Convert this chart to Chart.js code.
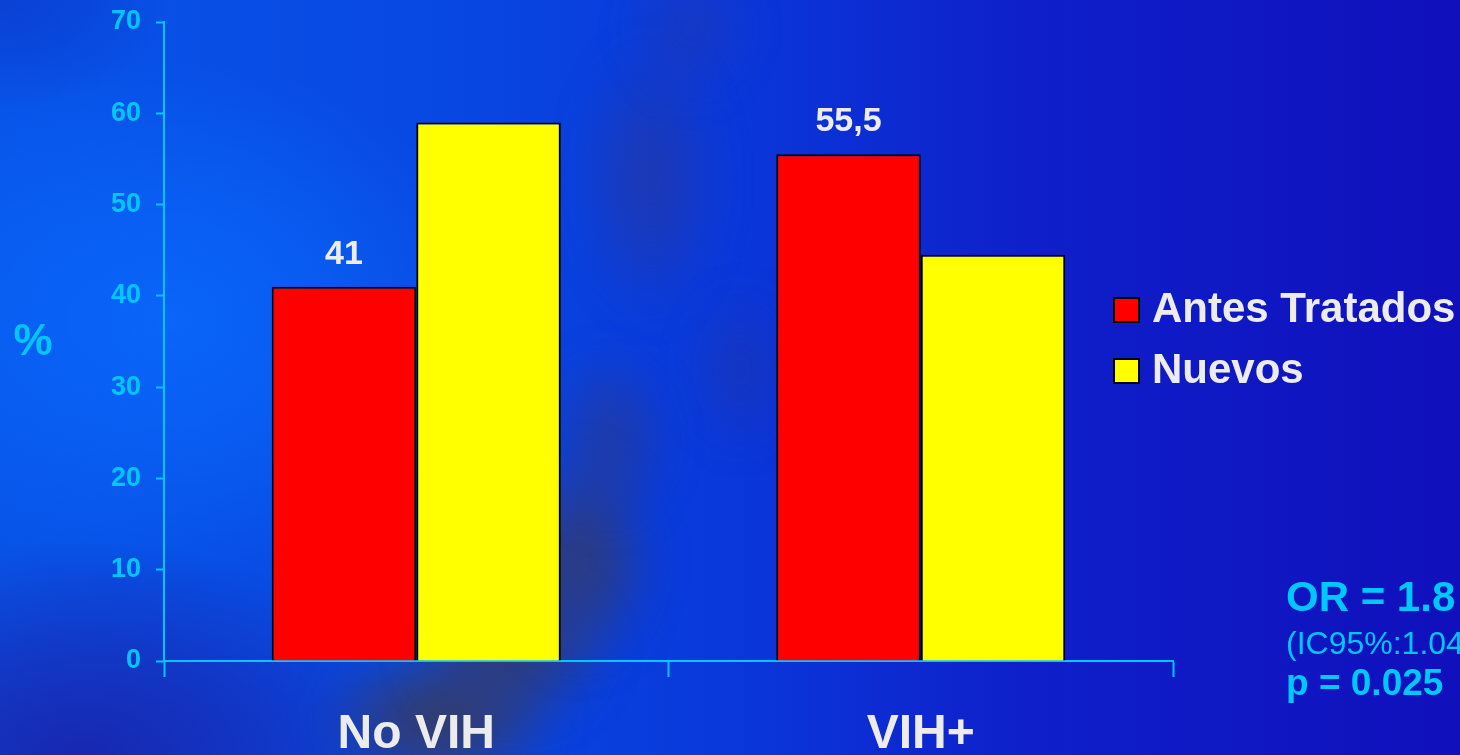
<!DOCTYPE html>
<html>
<head>
<meta charset="utf-8">
<script src="https://cdn.jsdelivr.net/npm/chart.js@4.4.0/dist/chart.umd.min.js"></script>
<style>
  html, body { margin: 0; padding: 0; background: #1014c2; overflow: hidden; }
  #wrap { width: 1460px; height: 755px; position: relative; }
  canvas { display: block; }
</style>
</head>
<body>
<div id="wrap"><canvas id="c" width="1460" height="755"></canvas></div>
<script>
// Grouped bars: share of each patient group, by HIV status
const categories = ['No VIH', 'VIH+'];
const seriesNames = ['Antes Tratados', 'Nuevos'];
const antesTratados = [41, 55.5];
const nuevos = [59, 44.5];
const yTicks = [0, 10, 20, 30, 40, 50, 60, 70];
const labeledSeries = [0];            // series whose values are printed above the bars
const axisUnit = '%';
const statsLines = ['OR = 1.8', '(IC95%:1.04', 'p = 0.025'];

const CYAN = '#00c8ff';
const LIGHT = '#ececec';
const FAMILY = "'Liberation Sans', Arial, Helvetica, sans-serif";

Chart.defaults.font.family = FAMILY;

function blob(ctx, x, y, rx, ry, color, alpha) {
  ctx.save();
  ctx.translate(x, y);
  ctx.scale(1, ry / rx);
  const g = ctx.createRadialGradient(0, 0, 0, 0, 0, rx);
  g.addColorStop(0, `rgba(${color},${alpha})`);
  g.addColorStop(0.5, `rgba(${color},${alpha * 0.6})`);
  g.addColorStop(1, `rgba(${color},0)`);
  ctx.fillStyle = g;
  ctx.beginPath();
  ctx.arc(0, 0, rx, 0, Math.PI * 2);
  ctx.fill();
  ctx.restore();
}

// Blue slide backdrop with a soft glow on the left and a dark diagonal sweep
const backdrop = {
  id: 'backdrop',
  beforeDraw(chart) {
    const { ctx, width: w, height: h } = chart;
    ctx.save();
    const base = ctx.createLinearGradient(0, 0, w, 0);
    base.addColorStop(0, '#0854e8');
    base.addColorStop(0.3, '#0848e2');
    base.addColorStop(0.5, '#0a38da');
    base.addColorStop(0.7, '#0e20ca');
    base.addColorStop(1, '#1010bc');
    ctx.fillStyle = base;
    ctx.fillRect(0, 0, w, h);

    // deeper tone towards the lower left corner
    blob(ctx, 80, 760, 360, 220, '26,34,170', 0.9);

    // broad bright glow on the left
    blob(ctx, 170, 320, 330, 260, '10,108,255', 0.75);

    // slightly darker top left corner
    blob(ctx, 0, 0, 170, 110, '12,52,200', 0.6);

    // dark diagonal sweep, strongest near the bottom
    ctx.filter = 'blur(20px)';
    blob(ctx, 440, 720, 120, 75, '60,58,90', 1);
    blob(ctx, 510, 650, 100, 80, '58,58,95', 0.9);
    blob(ctx, 580, 560, 75, 110, '56,58,100', 0.9);
    blob(ctx, 610, 440, 60, 90, '52,56,120', 0.6);
    blob(ctx, 740, 370, 50, 80, '45,50,140', 0.4);
    blob(ctx, 650, 180, 70, 140, '50,54,140', 0.55);
    blob(ctx, 690, 30, 60, 70, '50,54,150', 0.4);
    ctx.filter = 'none';
    ctx.restore();
  }
};

// Value labels, legend, unit label and statistics text
const overlay = {
  id: 'overlay',
  afterDatasetsDraw(chart) {
    const { ctx } = chart;
    ctx.save();
    ctx.fillStyle = LIGHT;
    ctx.font = `bold 34px ${FAMILY}`;
    ctx.textAlign = 'center';
    ctx.textBaseline = 'alphabetic';
    labeledSeries.forEach(di => {
      const meta = chart.getDatasetMeta(di);
      meta.data.forEach((bar, i) => {
        const v = chart.data.datasets[di].data[i];
        ctx.fillText(String(v).replace('.', ','), bar.x, bar.y - 23);
      });
    });
    ctx.restore();
  },
  afterDraw(chart) {
    const { ctx } = chart;
    ctx.save();
    // legend
    const rows = [310, 371];
    chart.data.datasets.forEach((ds, i) => {
      const cy = rows[i];
      ctx.fillStyle = ds.backgroundColor;
      ctx.fillRect(1114, cy - 12, 25, 24);
      ctx.strokeStyle = '#000';
      ctx.lineWidth = 2;
      ctx.strokeRect(1114, cy - 12, 25, 24);
      ctx.fillStyle = LIGHT;
      ctx.font = `bold 42px ${FAMILY}`;
      ctx.textAlign = 'left';
      ctx.textBaseline = 'middle';
      ctx.fillText(ds.label, 1152, cy);
    });
    // unit label
    ctx.fillStyle = CYAN;
    ctx.font = `bold 44px ${FAMILY}`;
    ctx.textAlign = 'center';
    ctx.textBaseline = 'middle';
    ctx.fillText(axisUnit, 33, 343);
    // statistics
    ctx.textAlign = 'left';
    ctx.font = `bold 42px ${FAMILY}`;
    ctx.fillText(statsLines[0], 1286, 599);
    ctx.font = `32px ${FAMILY}`;
    ctx.fillText(statsLines[1], 1286, 645);
    ctx.font = `bold 37px ${FAMILY}`;
    ctx.fillText(statsLines[2], 1286, 685);
    ctx.restore();
  }
};

new Chart(document.getElementById('c'), {
  type: 'bar',
  data: {
    labels: categories,
    datasets: [
      { label: seriesNames[0], data: antesTratados, backgroundColor: '#ff0000' },
      { label: seriesNames[1], data: nuevos, backgroundColor: '#ffff00' }
    ]
  },
  options: {
    responsive: false,
    animation: false,
    devicePixelRatio: 1,
    layout: { padding: { left: 0, right: 287, top: 22, bottom: 0 } },
    datasets: {
      bar: {
        borderColor: '#000000',
        borderWidth: 2,
        categoryPercentage: 0.573,
        barPercentage: 1
      }
    },
    plugins: {
      legend: { display: false },
      tooltip: { enabled: false }
    },
    scales: {
      x: {
        offset: true,
        grid: {
          offset: true,
          drawOnChartArea: false,
          drawTicks: true,
          tickLength: 16,
          tickWidth: 2,
          color: CYAN
        },
        border: { display: true, color: CYAN, width: 2 },
        ticks: {
          color: LIGHT,
          font: { size: 48, weight: 'bold' },
          padding: 29,
          maxRotation: 0
        },
        afterFit(scale) { scale.height = 94; }
      },
      y: {
        min: 0,
        max: 70,
        grid: {
          drawOnChartArea: false,
          drawTicks: true,
          tickLength: 8,
          tickWidth: 2,
          color: CYAN
        },
        border: { display: true, color: CYAN, width: 2 },
        ticks: {
          color: CYAN,
          font: { size: 27, weight: 'bold' },
          padding: 15
        },
        afterBuildTicks(scale) { scale.ticks = yTicks.map(v => ({ value: v })); },
        afterFit(scale) {
          scale.width = 164;
          scale.paddingTop = 0;
          scale.paddingBottom = 0;
        }
      }
    }
  },
  plugins: [backdrop, overlay]
});
</script>
</body>
</html>
